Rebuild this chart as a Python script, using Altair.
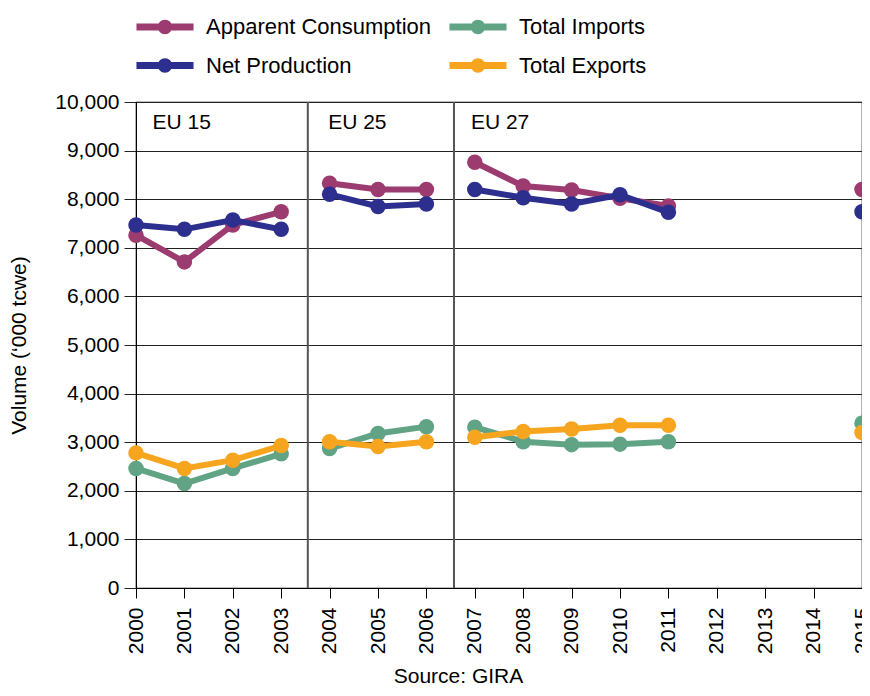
import altair as alt
import pandas as pd

FONT = "Liberation Sans"

years = [2000, 2001, 2002, 2003, 2004, 2005, 2006, 2007, 2008, 2009, 2010, 2011, 2015]
segments = ["EU15", "EU15", "EU15", "EU15", "EU25", "EU25", "EU25",
            "EU27", "EU27", "EU27", "EU27", "EU27", "EU28"]

apparent_consumption = [7260, 6710, 7470, 7740, 8330, 8200, 8200, 8760, 8270, 8190, 8020, 7860, 8200]
net_production = [7470, 7380, 7570, 7380, 8100, 7850, 7900, 8200, 8030, 7900, 8090, 7730, 7740]
total_imports = [2460, 2150, 2460, 2760, 2870, 3180, 3320, 3310, 3010, 2950, 2960, 3010, 3390]
total_exports = [2780, 2460, 2630, 2930, 3010, 2910, 3010, 3100, 3220, 3270, 3350, 3350, 3200]

series_names = ["Apparent Consumption", "Net Production", "Total Imports", "Total Exports"]
series_colors = ["#9c3b6f", "#2c2f8e", "#61a385", "#f7a51f"]

series_values = {
    "Apparent Consumption": apparent_consumption,
    "Net Production": net_production,
    "Total Imports": total_imports,
    "Total Exports": total_exports,
}

region_labels = ["EU 15", "EU 25", "EU 27"]
region_label_x = [2000.34, 2003.97, 2006.92]
region_label_y = [9560, 9560, 9560]
separator_x = [2003.55, 2006.57]

year_ticks = list(range(2000, 2016))
value_ticks = list(range(0, 10001, 1000))

rows = []
for name in series_names:
    for yr, seg, v in zip(years, segments, series_values[name]):
        rows.append({"year": yr, "segment": seg, "series": name, "value": v})
df = pd.DataFrame(rows)

sep_df = pd.DataFrame({"x": separator_x, "y0": [0] * len(separator_x), "y1": [10000] * len(separator_x)})
lab_df = pd.DataFrame({"x": region_label_x, "y": region_label_y, "label": region_labels})

x_scale = alt.Scale(domain=[2000, 2015], nice=False, zero=False)
y_scale = alt.Scale(domain=[0, 10000], nice=False)

x_axis = alt.Axis(
    values=year_ticks, format="d", labelAngle=270, labelFontSize=21, labelFont=FONT,
    labelColor="black", tickSize=10, tickColor="black", labelPadding=9,
    domainColor="black", grid=False, title="Source: GIRA", titleFont=FONT,
    titleFontSize=21, titleFontWeight="normal", titleColor="black",
    titleX=322, titleY=88, titleBaseline="middle", titleAlign="center",
)
y_axis = alt.Axis(
    values=value_ticks, format=",d", labelFontSize=21, labelFont=FONT, labelColor="black",
    tickSize=12, tickColor="#222222", labelPadding=5, domainColor="black",
    grid=True, gridColor="#222222", gridWidth=1,
    title="Volume (\u2018000 tcwe)", titleFont=FONT, titleFontSize=21,
    titleFontWeight="normal", titleColor="black", titleAngle=270,
    titleX=-117, titleY=243, titleBaseline="middle", titleAlign="center",
)

symbol_path = ("M-3.17,-0.39L3.17,-0.39L3.17,0.39L-3.17,0.39Z "
               "M-0.8,0A0.8,0.8 0 1,1 0.8,0A0.8,0.8 0 1,1 -0.8,0Z")

legend = alt.Legend(
    orient="none", legendX=18, legendY=-86, columns=2, title=None,
    symbolType=symbol_path, symbolSize=324, symbolStrokeWidth=0, symbolOpacity=1,
    labelFont=FONT, labelFontSize=22, labelColor="black", labelOffset=30,
    labelLimit=400, rowPadding=16.5, columnPadding=17, padding=0,
)

base = alt.Chart(df)
layers = []

seps = alt.Chart(sep_df).mark_rule(color="#555555", strokeWidth=2).encode(
    x=alt.X("x:Q", scale=x_scale, axis=x_axis),
    y=alt.Y("y0:Q", scale=y_scale, axis=y_axis),
    y2="y1:Q",
)
layers.append(seps)

color_map = dict(zip(series_names, series_colors))
for name in series_names:
    sub = base.transform_filter(alt.datum.series == name)
    line = sub.mark_line(strokeWidth=6, color=color_map[name]).encode(
        x=alt.X("year:Q", scale=x_scale, axis=x_axis),
        y=alt.Y("value:Q", scale=y_scale, axis=y_axis),
        detail="segment:N",
        order="year:Q",
    )
    pts = sub.mark_circle(size=240, opacity=1).encode(
        x=alt.X("year:Q", scale=x_scale, axis=x_axis),
        y=alt.Y("value:Q", scale=y_scale, axis=y_axis),
        color=alt.Color("series:N", scale=alt.Scale(domain=series_names, range=series_colors), legend=legend),
    )
    layers.append(line)
    layers.append(pts)

labels = alt.Chart(lab_df).mark_text(align="left", baseline="middle", fontSize=21, font=FONT, color="black").encode(
    x=alt.X("x:Q", scale=x_scale, axis=x_axis),
    y=alt.Y("y:Q", scale=y_scale, axis=y_axis),
    text="label:N",
)
layers.append(labels)

chart = alt.layer(*layers).properties(
    width=726, height=486,
    autosize=alt.AutoSizeParams(type="none"),
    padding={"left": 128, "top": 94, "right": 0, "bottom": 100},
    background="white",
).configure_view(stroke="black", strokeWidth=1.2)

chart.save("out.html", embed_options={"renderer": "svg", "actions": False})
